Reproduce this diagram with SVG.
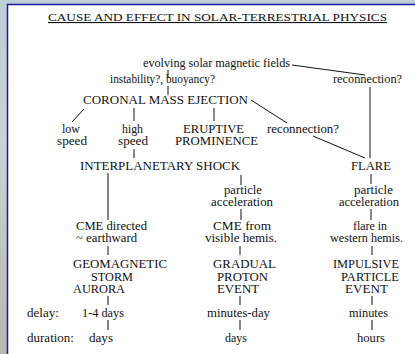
<svg xmlns="http://www.w3.org/2000/svg" width="415" height="354" viewBox="0 0 415 354">
<defs>
<linearGradient id="side" x1="0" y1="0" x2="0" y2="1">
<stop offset="0" stop-color="#bccdd4"/>
<stop offset="0.4" stop-color="#ccd3d6"/>
<stop offset="1" stop-color="#b6b6b2"/>
</linearGradient>
<style>
text{font-family:"Liberation Serif","Times New Roman",serif;font-size:12.5px;fill:#111}
.c{font-size:12px}
.t{font-size:11px;text-decoration:underline}
#connectors line{stroke:#111;stroke-width:1}
</style>
</defs>
<rect width="415" height="354" fill="url(#side)"/>
<rect x="0" y="0" width="415" height="4" fill="#bccfd6"/>
<rect x="7.5" y="4.5" width="420" height="360" fill="#fff" stroke="#1a1aa0" stroke-width="1.5"/>
<g id="title"><text class="t" x="48" y="21" textLength="339" lengthAdjust="spacingAndGlyphs">CAUSE AND EFFECT  IN SOLAR-TERRESTRIAL PHYSICS</text></g>
<g id="connectors">
<line x1="292" y1="65" x2="365" y2="75"/>
<line x1="168" y1="70" x2="168" y2="78"/>
<line x1="168" y1="86" x2="168" y2="95"/>
<line x1="370" y1="87" x2="370" y2="158"/>
<line x1="251" y1="100" x2="287" y2="123"/>
<line x1="84" y1="109" x2="72" y2="122"/>
<line x1="134" y1="108" x2="134" y2="121"/>
<line x1="214" y1="108" x2="214" y2="121"/>
<line x1="313" y1="136" x2="365" y2="158"/>
<line x1="134" y1="149" x2="134" y2="158"/>
<line x1="108" y1="173" x2="108" y2="220"/>
<line x1="241" y1="175" x2="241" y2="185"/>
<line x1="241" y1="209" x2="241" y2="220"/>
<line x1="371" y1="174" x2="371" y2="184"/>
<line x1="371" y1="209" x2="371" y2="220"/>
<line x1="108" y1="246" x2="108" y2="255"/>
<line x1="240" y1="246" x2="240" y2="255"/>
<line x1="372" y1="246" x2="372" y2="255"/>
<line x1="108" y1="296" x2="108" y2="305"/>
<line x1="240" y1="296" x2="240" y2="305"/>
<line x1="372" y1="296" x2="372" y2="305"/>
<line x1="108" y1="320" x2="108" y2="330"/>
<line x1="240" y1="320" x2="240" y2="330"/>
<line x1="372" y1="320" x2="372" y2="330"/>
</g>
<g id="evolving"><text x="143" y="67" textLength="147" lengthAdjust="spacingAndGlyphs">evolving solar magnetic fields</text></g>
<g id="instability"><text x="110" y="83" textLength="105" lengthAdjust="spacingAndGlyphs">instability?, buoyancy?</text></g>
<g id="reconnection1"><text x="333" y="83" textLength="69" lengthAdjust="spacingAndGlyphs">reconnection?</text></g>
<g id="cme"><text class="c" x="83" y="104" textLength="165" lengthAdjust="spacingAndGlyphs">CORONAL MASS EJECTION</text></g>
<g id="low"><text x="62" y="133" textLength="18" lengthAdjust="spacingAndGlyphs">low</text><text x="57" y="145" textLength="30" lengthAdjust="spacingAndGlyphs">speed</text></g>
<g id="high"><text x="122" y="133" textLength="21" lengthAdjust="spacingAndGlyphs">high</text><text x="118" y="145" textLength="30" lengthAdjust="spacingAndGlyphs">speed</text></g>
<g id="eruptive"><text class="c" x="183" y="133" textLength="61" lengthAdjust="spacingAndGlyphs">ERUPTIVE</text><text class="c" x="175" y="145" textLength="83" lengthAdjust="spacingAndGlyphs">PROMINENCE</text></g>
<g id="reconnection2"><text x="267" y="133" textLength="72" lengthAdjust="spacingAndGlyphs">reconnection?</text></g>
<g id="shock"><text class="c" x="80" y="170" textLength="160" lengthAdjust="spacingAndGlyphs">INTERPLANETARY SHOCK</text></g>
<g id="flare"><text class="c" x="351" y="170" textLength="40" lengthAdjust="spacingAndGlyphs">FLARE</text></g>
<g id="pa1"><text x="224" y="194" textLength="38" lengthAdjust="spacingAndGlyphs">particle</text><text x="211" y="206" textLength="62" lengthAdjust="spacingAndGlyphs">acceleration</text></g>
<g id="pa2"><text x="354" y="194" textLength="39" lengthAdjust="spacingAndGlyphs">particle</text><text x="339" y="206" textLength="60" lengthAdjust="spacingAndGlyphs">acceleration</text></g>
<g id="cmedir"><text x="76" y="230" textLength="71" lengthAdjust="spacingAndGlyphs">CME directed</text><text x="76" y="242" textLength="61" lengthAdjust="spacingAndGlyphs">~ earthward</text></g>
<g id="cmefrom"><text x="213" y="230" textLength="58" lengthAdjust="spacingAndGlyphs">CME from</text><text x="205" y="242" textLength="72" lengthAdjust="spacingAndGlyphs">visible hemis.</text></g>
<g id="flarein"><text x="353" y="230" textLength="34" lengthAdjust="spacingAndGlyphs">flare in</text><text x="330" y="242" textLength="73" lengthAdjust="spacingAndGlyphs">western hemis.</text></g>
<g id="geo"><text class="c" x="73" y="268" textLength="94" lengthAdjust="spacingAndGlyphs">GEOMAGNETIC</text><text class="c" x="91" y="281" textLength="42" lengthAdjust="spacingAndGlyphs">STORM</text><text class="c" x="73" y="293" textLength="52" lengthAdjust="spacingAndGlyphs">AURORA</text></g>
<g id="gradual"><text class="c" x="213" y="268" textLength="63" lengthAdjust="spacingAndGlyphs">GRADUAL</text><text class="c" x="217" y="281" textLength="51" lengthAdjust="spacingAndGlyphs">PROTON</text><text class="c" x="217" y="293" textLength="42" lengthAdjust="spacingAndGlyphs">EVENT</text></g>
<g id="impulsive"><text class="c" x="333" y="268" textLength="66" lengthAdjust="spacingAndGlyphs">IMPULSIVE</text><text class="c" x="341" y="281" textLength="58" lengthAdjust="spacingAndGlyphs">PARTICLE</text><text class="c" x="345" y="293" textLength="43" lengthAdjust="spacingAndGlyphs">EVENT</text></g>
<g id="delay"><text x="27" y="317" textLength="32" lengthAdjust="spacingAndGlyphs">delay:</text><text x="82" y="317" textLength="42" lengthAdjust="spacingAndGlyphs">1-4 days</text><text x="207" y="317" textLength="63" lengthAdjust="spacingAndGlyphs">minutes-day</text><text x="349" y="317" textLength="39" lengthAdjust="spacingAndGlyphs">minutes</text></g>
<g id="duration"><text x="27" y="342" textLength="47" lengthAdjust="spacingAndGlyphs">duration:</text><text x="89" y="342" textLength="24" lengthAdjust="spacingAndGlyphs">days</text><text x="225" y="342" textLength="22" lengthAdjust="spacingAndGlyphs">days</text><text x="357" y="342" textLength="28" lengthAdjust="spacingAndGlyphs">hours</text></g>
</svg>
